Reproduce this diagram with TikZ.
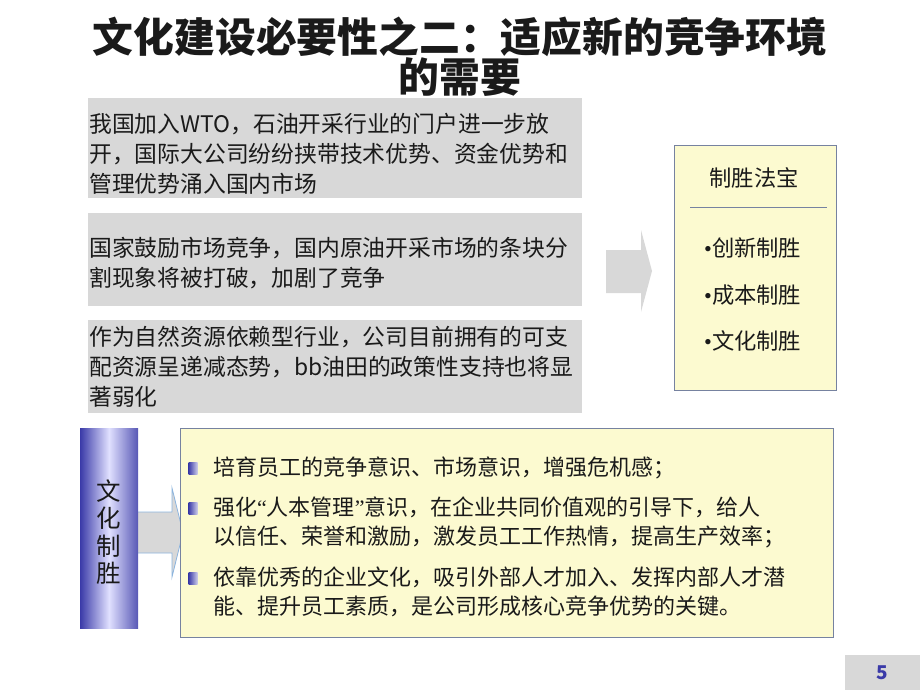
\documentclass[tikz,border=0pt]{standalone}
\usepackage{fontspec}
\setmainfont{Noto Sans CJK SC}
\newfontfamily\latinfont{Liberation Serif}
\usetikzlibrary{positioning}
\definecolor{factgray}{RGB}{216,216,216}
\definecolor{paleyellow}{RGB}{252,250,208}
\definecolor{framegray}{RGB}{118,130,160}
\definecolor{deepblue}{RGB}{58,58,168}
\definecolor{arrowblue}{RGB}{140,180,222}
\definecolor{inkblack}{RGB}{26,26,26}
\newcommand{\dotmark}{{\latinfont •}}
\tikzstyle{every node}=[inner sep=0pt,text=inkblack]
\tikzstyle{fact}=[fill=factgray,anchor=north west,minimum width=494pt]
\tikzstyle{facttext}=[anchor=west,text width=492pt,align=left,font=\fontsize{22.8}{30}\selectfont]
\tikzstyle{panel}=[draw=framegray,fill=paleyellow,anchor=north west,line width=0.8pt]
\tikzstyle{item}=[anchor=west,font=\fontsize{22.3}{26}\selectfont]
\tikzstyle{point}=[anchor=west,align=left,font=\fontsize{22}{29}\selectfont]
\tikzstyle{bulletsq}=[left color=deepblue,right color=deepblue!25,minimum width=9pt,minimum height=12pt]
\tikzstyle{blockarrow}=[fill=factgray,draw=arrowblue,line width=0.8pt,line join=miter]

\begin{document}
\begin{tikzpicture}[x=1pt,y=-1pt]
    \useasboundingbox (0,0) rectangle (920,690);
    \node[font=\bfseries\fontsize{40.8}{38}\selectfont,align=center] (title) at (460,56.5)
        {文化建设必要性之二：适应新的竞争环境\\的需要};
    \node[fact,minimum height=100pt] (wto) at (88,98) {};
    \node[facttext] (wtotext) at ([xshift=1pt,yshift=-6pt]wto.west)
        {我国加入WTO，石油开采行业的门户进一步放\\开，国际大公司纷纷挟带技术优势、资金优势和\\管理优势涌入国内市场};
    \node[fact,minimum height=93pt] (jingzheng) at (88,213) {};
    \node[facttext] (jingzhengtext) at ([xshift=1pt,yshift=-3pt]jingzheng.west)
        {国家鼓励市场竞争，国内原油开采市场的条块分\\割现象将被打破，加剧了竞争};
    \node[fact,minimum height=93pt] (ziyuan) at (88,320) {};
    \node[facttext] (ziyuantext) at ([xshift=1pt]ziyuan.west)
        {作为自然资源依赖型行业，公司目前拥有的可支\\配资源呈递减态势，bb油田的政策性支持也将显\\著弱化};
    \fill[factgray] (606,250) -- (641,250) -- (641,230) -- (652,271) -- (641,312) -- (641,293) -- (606,293) -- cycle;
    \node[panel,minimum width=162pt,minimum height=245pt] (fabao) at (674,145) {};
    \node[font=\fontsize{22.3}{26}\selectfont] (fabaotitle) at (754,178) {制胜法宝};
    \draw[framegray,line width=1pt] (690,207) -- (827,207);
    \node[item] (chuangxin) at (704,248) {\dotmark 创新制胜};
    \node[item] (chengben) at (704,295) {\dotmark 成本制胜};
    \node[item] (wenhuazs) at (704,341) {\dotmark 文化制胜};
    \draw[blockarrow] (136,512) -- (172,512) -- (172,488) -- (183,532.5) -- (172,577) -- (172,553) -- (136,553) -- cycle;
    \node[left color=deepblue,right color=deepblue!85,middle color=white!88!blue,
        minimum width=58pt,minimum height=200pt] (wenhua) at (109,528) {};
    \node[align=center,font=\fontsize{24.5}{27.5}\selectfont] (wenhuatext)
        at ([yshift=-4pt]wenhua.center) {文\\化\\制\\胜};
    \node[panel,minimum width=653pt,minimum height=209pt] (culture) at (180,428) {};
    \node[bulletsq] (sq1) at (193,468) {};
    \node[bulletsq] (sq2) at (193,508) {};
    \node[bulletsq] (sq3) at (193,578) {};
    \node[point] (peiyu) at (213,468) {培育员工的竞争意识、市场意识，增强危机感；};
    \node[point] (renben) at (213,522.5) {强化{\latinfont “}人本管理{\latinfont ”}意识，在企业共同价值观的引导下，给人\\以信任、荣誉和激励，激发员工工作热情，提高生产效率；};
    \node[point] (yikao) at (213,591.5) {依靠优秀的企业文化，吸引外部人才加入、发挥内部人才潜\\能、提升员工素质，是公司形成核心竞争优势的关键。};
    \node[fill=factgray,minimum width=75pt,minimum height=35pt,text=deepblue,
        font=\bfseries\fontsize{19}{19}\selectfont] (page) at (882.5,672.5) {5};
\end{tikzpicture}
\end{document}
